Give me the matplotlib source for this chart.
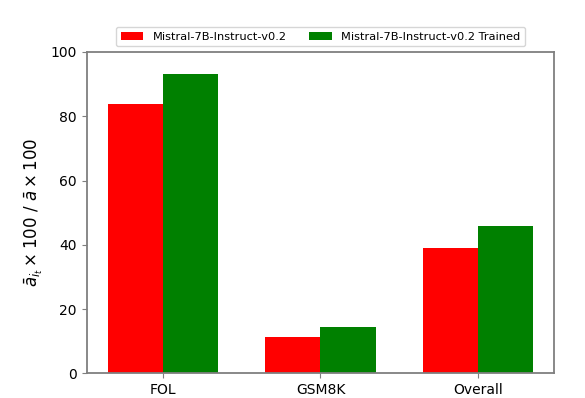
import numpy as np
import matplotlib
matplotlib.use('Agg')
import matplotlib.pyplot as plt

# values
categories = ['FOL', 'GSM8K', 'Overall']
base_scores = [83.8, 11.3, 39.0]
trained_scores = [93.1, 14.4, 45.8]
labels = ['Mistral-7B-Instruct-v0.2', 'Mistral-7B-Instruct-v0.2 Trained']

x = np.arange(len(categories))
width = 0.35
edge = '#7f7f7f'

fig = plt.figure(figsize=(5.85, 3.98), dpi=100)
ax = fig.add_axes([0.1482, 0.0621, 0.7993, 0.8073])

ax.bar(x - width / 2, base_scores, width, color='red', label=labels[0])
ax.bar(x + width / 2, trained_scores, width, color='green', label=labels[1])

ax.set_ylim(0, 100)
ax.set_xticks(x)
ax.set_xticklabels(categories)
ax.tick_params(labelsize=10, color=edge)
for sp in ax.spines.values():
    sp.set_color(edge)
    sp.set_linewidth(1.3)
ax.set_ylabel(r'$\bar{a}_{i_t} \times 100\ /\ \bar{a} \times 100$', fontsize=12)

ax.legend(loc='lower center', bbox_to_anchor=(0.5, 1.0), ncol=2, fontsize=8.2)

fig.savefig('out.png', dpi=100)
